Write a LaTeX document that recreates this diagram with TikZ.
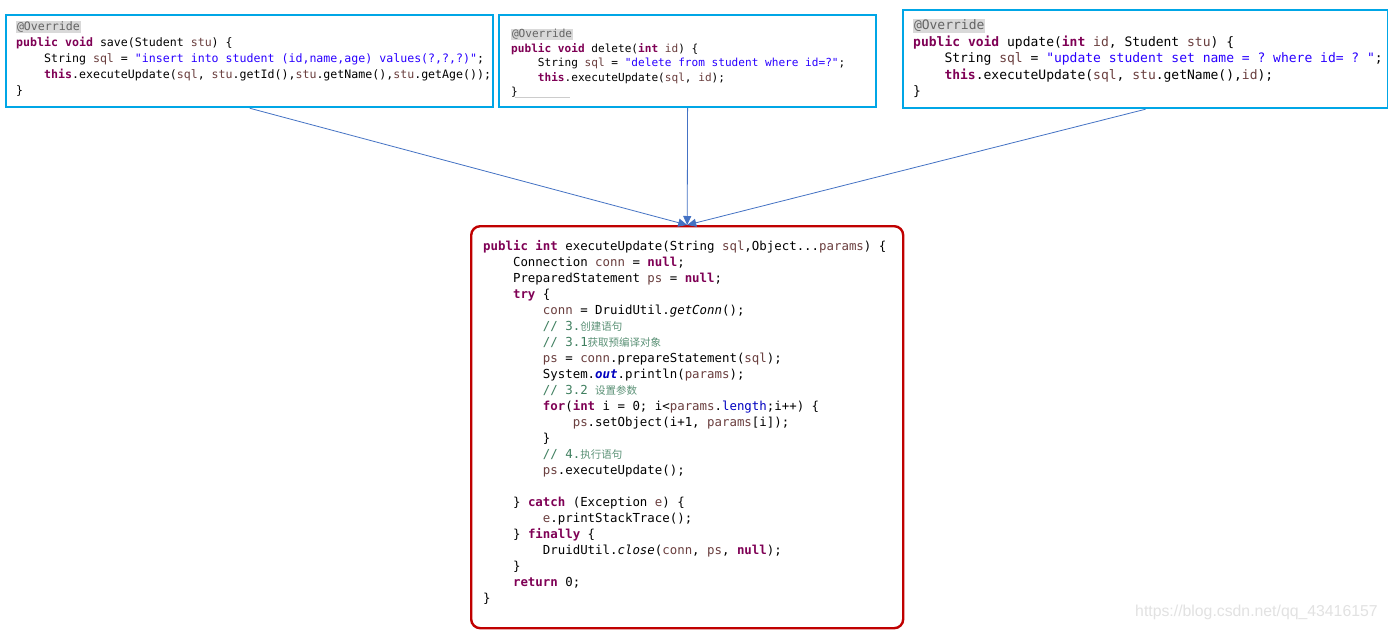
\documentclass[tikz,border=0pt]{standalone}
\usepackage{fontspec}
\setmonofont{DejaVu Sans Mono}
\newfontfamily\cjkfont{Noto Sans CJK SC}
\newfontfamily\wmfont{Liberation Sans}
\usetikzlibrary{arrows.meta}
\definecolor{boxblue}{HTML}{00A6E6}
\definecolor{boxred}{HTML}{C00000}
\definecolor{arrblue}{HTML}{4472C4}
\definecolor{kwc}{HTML}{7F0055}
\definecolor{varc}{HTML}{6A3E3E}
\definecolor{strc}{HTML}{2A00FF}
\definecolor{cmtc}{HTML}{3F7F5F}
\definecolor{fldc}{HTML}{0000C0}
\definecolor{annc}{HTML}{646464}
\definecolor{hlgrey}{HTML}{D9D9D9}
\definecolor{wmc}{HTML}{E2E2E2}
\newcommand\jkw[1]{{\color{kwc}\bfseries #1}}
\newcommand\jvar[1]{{\color{varc}#1}}
\newcommand\jstr[1]{{\color{strc}#1}}
\newcommand\jcmt[1]{{\color{cmtc}#1}}
\newcommand\jfld[1]{{\color{fldc}#1}}
\newcommand\zh[1]{{\cjkfont\fontsize{10.5}{12}\selectfont\color{cmtc!85}#1}}
\newcommand\jann[1]{{\setlength{\fboxsep}{0.8pt}\colorbox{hlgrey}{\color{annc}#1}}}
\newcommand\ia{\phantom{0000}}
\newcommand\ib{\phantom{00000000}}
\newcommand\ic{\phantom{000000000000}}
\tikzset{
  bluebox/.style={draw=boxblue, line width=2.2pt, anchor=north west, inner sep=0pt},
  redbox/.style={draw=boxred, line width=2.4pt, rounded corners=9pt, anchor=north west, inner sep=0pt},
  codetext/.style={anchor=north west, inner sep=0pt, align=left},
  arr/.style={draw=arrblue, line width=0.8pt, -{Triangle[length=9pt,width=8pt]}},
}
\begin{document}
\begin{tikzpicture}[x=1pt,y=-1pt]
\useasboundingbox[fill=white] (0,0) rectangle (1388,629);
% boxes
\node[bluebox, minimum width=487pt, minimum height=92pt] (save) at (5,14) {};
\node[bluebox, minimum width=377pt, minimum height=92pt] (delete) at (498,14) {};
\node[bluebox, minimum width=485pt, minimum height=98pt] (update) at (902,9) {};
\node[redbox, minimum width=432pt, minimum height=402pt] (exec) at (470,225) {};
% code texts
\node[codetext, font=\ttfamily\fontsize{11.6}{16}\selectfont\frenchspacing] (savecode) at (16,19.3) {\strut\jann{@Override}\\
\jkw{public} \jkw{void} save(Student \jvar{stu}) \{\\
\ia String \jvar{sql} = \jstr{"insert into student (id,name,age) values(?,?,?)"};\\
\ia \jkw{this}.executeUpdate(\jvar{sql}, \jvar{stu}.getId(),\jvar{stu}.getName(),\jvar{stu}.getAge());\\
\}};
\node[codetext, font=\ttfamily\fontsize{11.1}{14.5}\selectfont\frenchspacing] (deletecode) at (511,27.6) {\strut\jann{@Override}\\
\jkw{public} \jkw{void} delete(\jkw{int} \jvar{id}) \{\\
\ia String \jvar{sql} = \jstr{"delete from student where id=?"};\\
\ia \jkw{this}.executeUpdate(\jvar{sql}, \jvar{id});\\
\}};
\node[codetext, font=\ttfamily\fontsize{13}{16.5}\selectfont\frenchspacing] (updatecode) at (913,18) {\strut\jann{@Override}\\
\jkw{public} \jkw{void} update(\jkw{int} \jvar{id}, Student \jvar{stu}) \{\\
\ia String \jvar{sql} = \jstr{"update student set name = ? where id= ? "};\\
\ia \jkw{this}.executeUpdate(\jvar{sql}, \jvar{stu}.getName(),\jvar{id});\\
\}};
\node[codetext, font=\ttfamily\fontsize{12.4}{16}\selectfont\frenchspacing] (execcode) at (483,238.8) {\strut\jkw{public} \jkw{int} executeUpdate(String \jvar{sql},Object...\jvar{params}) \{\\
\ia Connection \jvar{conn} = \jkw{null};\\
\ia PreparedStatement \jvar{ps} = \jkw{null};\\
\ia \jkw{try} \{\\
\ib \jvar{conn} = DruidUtil.\textit{getConn}();\\
\ib \jcmt{// 3.\zh{创建语句}}\\
\ib \jcmt{// 3.1\zh{获取预编译对象}}\\
\ib \jvar{ps} = \jvar{conn}.prepareStatement(\jvar{sql});\\
\ib System.\jfld{\textbf{\textit{out}}}.println(\jvar{params});\\
\ib \jcmt{// 3.2 \zh{设置参数}}\\
\ib \jkw{for}(\jkw{int} i = 0; i<\jvar{params}.\jfld{length};i++) \{\\
\ic \jvar{ps}.setObject(i+1, \jvar{params}[i]);\\
\ib \}\\
\ib \jcmt{// 4.\zh{执行语句}}\\
\ib \jvar{ps}.executeUpdate();\\
~\\
\ia \} \jkw{catch} (Exception \jvar{e}) \{\\
\ib \jvar{e}.printStackTrace();\\
\ia \} \jkw{finally} \{\\
\ib DruidUtil.\textit{close}(\jvar{conn}, \jvar{ps}, \jkw{null});\\
\ia \}\\
\ia \jkw{return} 0;\\
\}};
% small artifact line under closing brace of delete
\coordinate (ulA) at (515,97.5);
\coordinate (ulB) at (570,97.5);
\draw[draw=gray!40, line width=0.5pt] (ulA) -- (ulB);
% connectors
\draw[arr] (save.south) -- (exec.north);
\draw[arr] (delete.south) -- (exec.north);
\draw[arr] (update.south) -- (exec.north);
% watermark
\node[anchor=base west, inner sep=0pt, font=\wmfont\fontsize{15.8}{16}\selectfont, text=wmc] (wm) at (1135,616) {https://blog.csdn.net/qq\_43416157};
\end{tikzpicture}
\end{document}
